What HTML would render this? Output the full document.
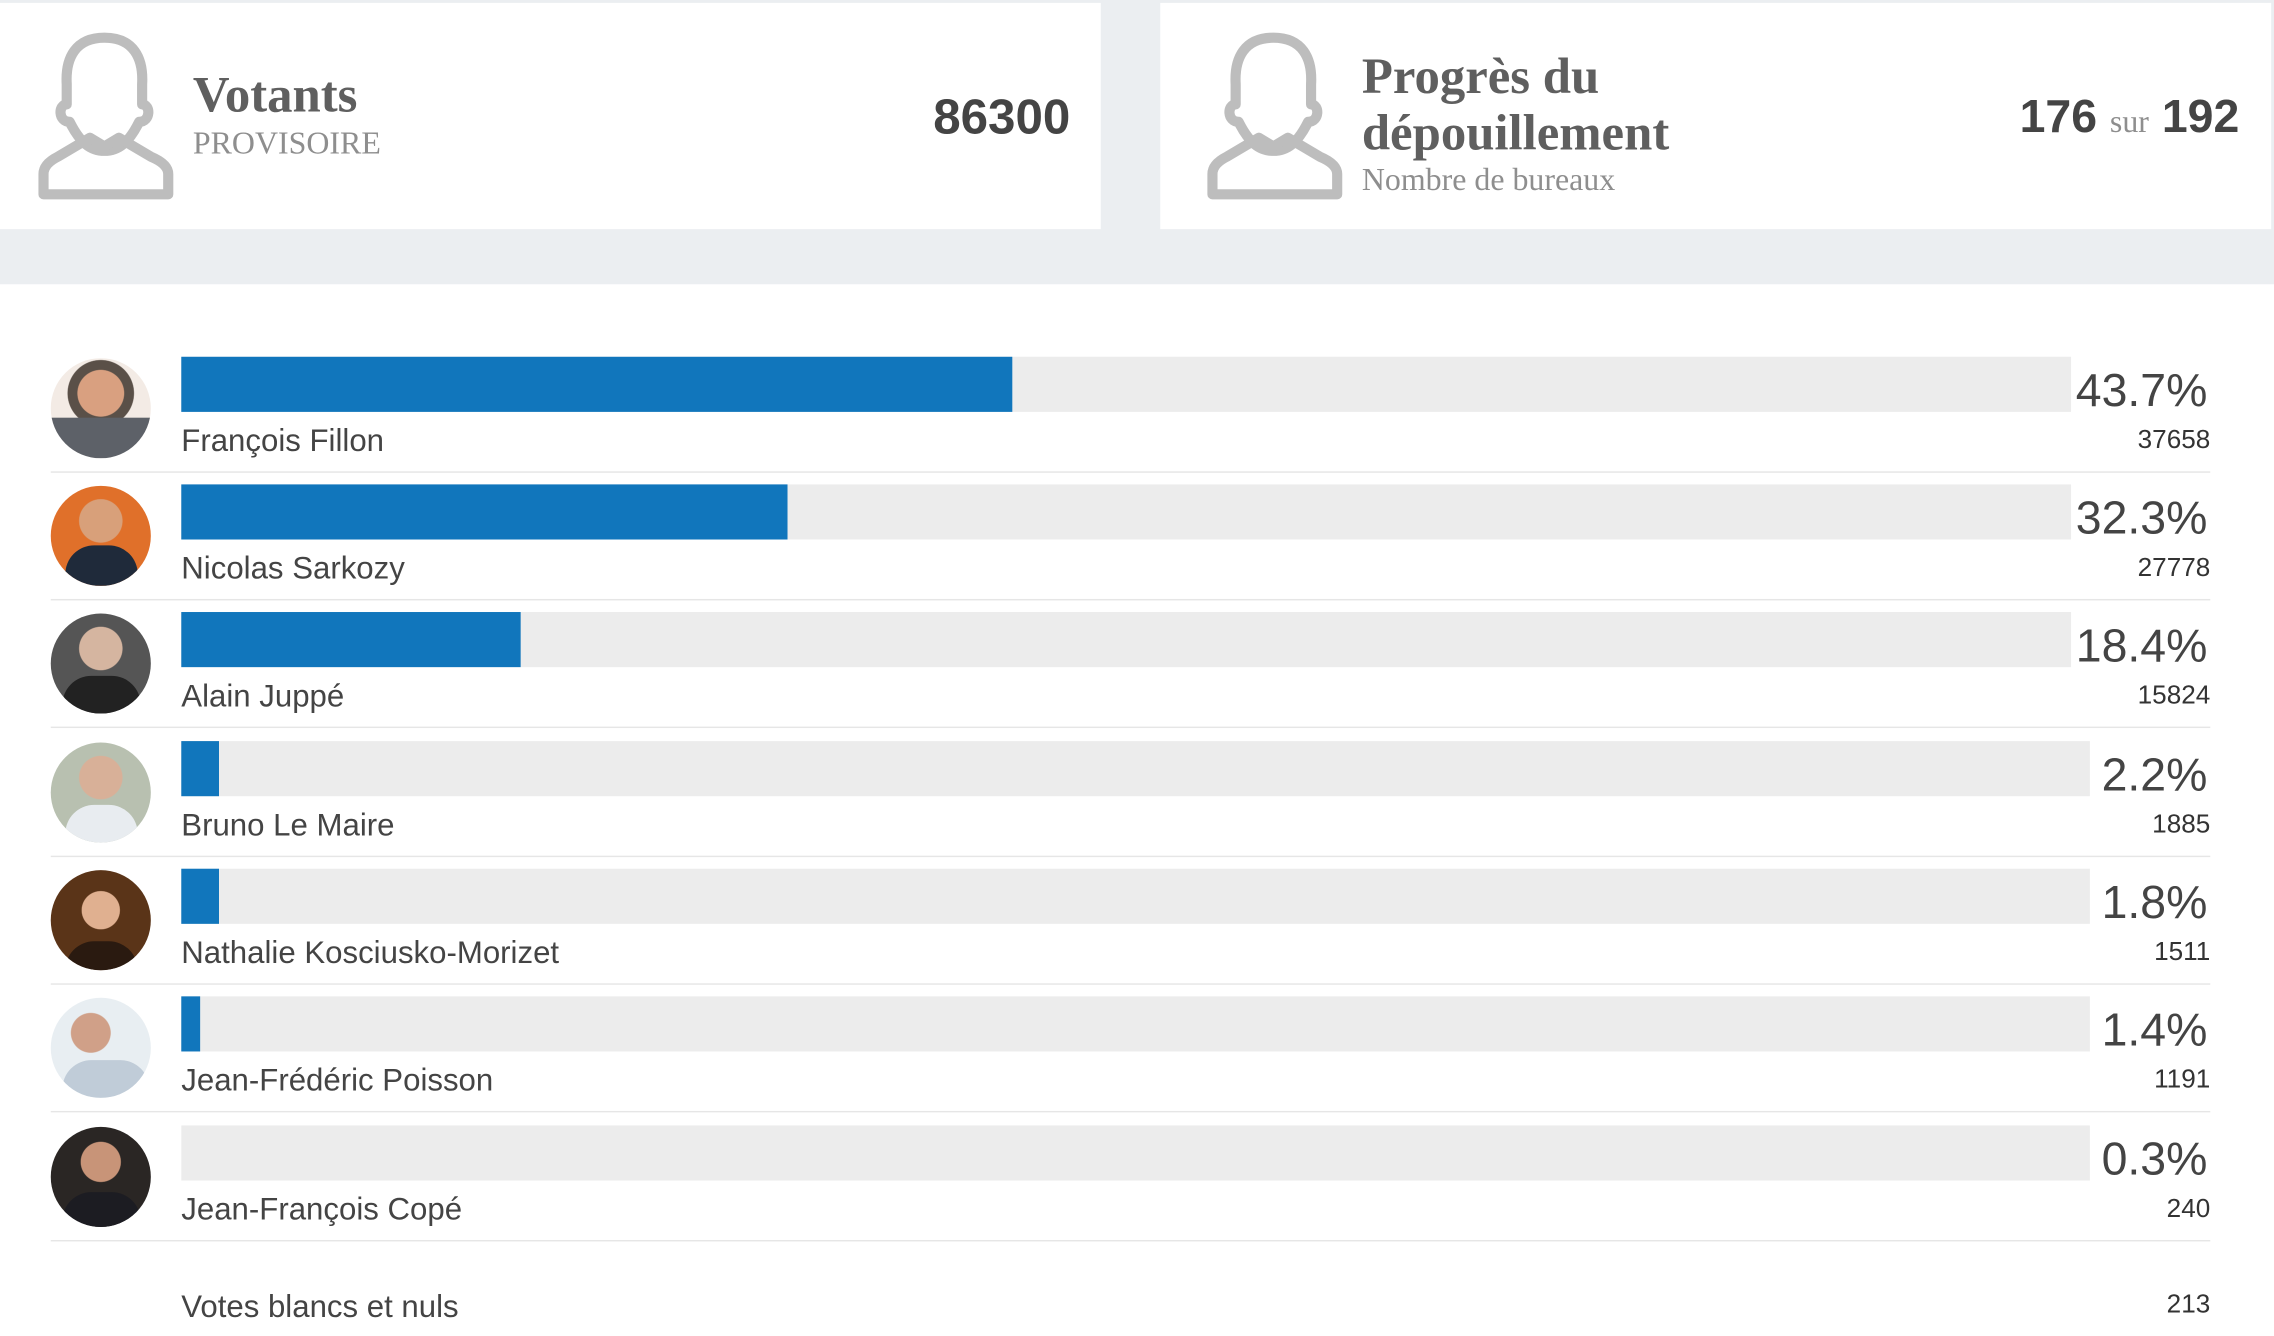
<!DOCTYPE html>
<html><head><meta charset="utf-8"><style>
html,body{margin:0;padding:0;width:2274px;height:1335px;overflow:hidden;background:#fff}
#w{position:absolute;left:0;top:0;width:1568px;height:921px;transform:scale(1.4503);transform-origin:0 0;font-family:"Liberation Sans",sans-serif;color:#444;overflow:hidden}
.abs{position:absolute}
.row{position:absolute;left:0;width:1568px;height:88px}
.serif{font-family:"Liberation Serif",serif}
.track{position:absolute;left:125px;height:38px;background:#ececec}
.fill{position:absolute;left:0;top:0;height:38px;background:#1176bc}
.name{position:absolute;left:125px;font-size:21.5px;color:#444;white-space:nowrap}
.pct{position:absolute;right:46px;font-size:32px;color:#444;text-align:right;white-space:nowrap}
.cnt{position:absolute;right:44px;font-size:18px;color:#333;text-align:right;white-space:nowrap}
.sep{position:absolute;left:35px;width:1489px;height:1px;background:#e6e6e6}
.av{position:absolute;left:35px;width:69px;height:69px;border-radius:50%;overflow:hidden}
</style></head><body><div id="w">
<div class="abs" style="left:0;top:0;width:1568px;height:196px;background:#ebeef1"></div>
<div class="abs" style="left:0;top:2px;width:759px;height:156px;background:#fff"></div>
<div class="abs" style="left:800px;top:2px;width:766px;height:156px;background:#fff"></div>
<svg class="abs" style="left:0;top:0" width="1568" height="160">
<g fill="none" stroke="#bdbdbd" stroke-width="7" stroke-linejoin="round">
 <path d="M72 26 C52 26 45 40 46 58 L46 72 C40 72 40 84 48 84 C55 98 62 104 72 104 C82 104 89 98 96 84 C104 84 104 72 98 72 L98 58 C99 40 92 26 72 26Z"/>
 <path d="M30 134 L30 120 Q30 113 40 108 L62 95 L72 101 L82 95 L104 108 Q116 113 116 120 L116 134Z"/>
 <path transform="translate(806,0)" d="M72 26 C52 26 45 40 46 58 L46 72 C40 72 40 84 48 84 C55 98 62 104 72 104 C82 104 89 98 96 84 C104 84 104 72 98 72 L98 58 C99 40 92 26 72 26Z"/>
 <path transform="translate(806,0)" d="M30 134 L30 120 Q30 113 40 108 L62 95 L72 101 L82 95 L104 108 Q116 113 116 120 L116 134Z"/>
</g></svg>
<div class="abs serif" style="left:133px;top:46px;font-size:35px;font-weight:bold;color:#5f5f5f">Votants</div>
<div class="abs serif" style="left:133px;top:86px;font-size:22px;color:#8e8e8e">PROVISOIRE</div>
<div class="abs" style="right:830px;top:62px;font-size:34px;font-weight:bold;color:#444">86300</div>
<div class="abs serif" style="left:939px;top:33px;font-size:35px;font-weight:bold;color:#5f5f5f;line-height:39px;white-space:nowrap">Progrès du<br>dépouillement</div>
<div class="abs serif" style="left:939px;top:111px;font-size:22px;color:#8e8e8e;white-space:nowrap">Nombre de bureaux</div>
<div class="abs" style="right:24px;top:62px;font-size:32px;font-weight:bold;color:#444;white-space:nowrap">176 <span class="serif" style="font-size:22px;font-weight:normal;color:#8e8e8e">sur</span> 192</div>

<div class="row" style="top:246px">
 <div class="av" style="top:1px;background:radial-gradient(circle at 50% 35%,#d9a080 0 28%,#5a5048 29% 40%,#f3ebe5 41%),#f3ebe5"><div style="position:absolute;left:0;bottom:0;width:69px;height:28px;background:#5d6168"></div></div>
 <div class="track" style="top:0;width:1303px"><div class="fill" style="width:573px"></div></div>
 <div class="pct" style="top:5px">43.7%</div>
 <div class="name" style="top:46px">François Fillon</div>
 <div class="cnt" style="top:47px">37658</div>
 <div class="sep" style="top:79px"></div>
</div>
<div class="row" style="top:334px">
 <div class="av" style="top:1px;background:radial-gradient(circle at 50% 35%,#d8a07a 0 26%,#e0702a 27%)"><div style="position:absolute;left:10px;bottom:0;width:50px;height:28px;background:#1f2a3a;border-radius:20px 20px 0 0"></div></div>
 <div class="track" style="top:0;width:1303px"><div class="fill" style="width:418px"></div></div>
 <div class="pct" style="top:5px">32.3%</div>
 <div class="name" style="top:46px">Nicolas Sarkozy</div>
 <div class="cnt" style="top:47px">27778</div>
 <div class="sep" style="top:79px"></div>
</div>
<div class="row" style="top:422px">
 <div class="av" style="top:1px;background:radial-gradient(circle at 50% 35%,#d5b5a0 0 26%,#555 27%)"><div style="position:absolute;left:8px;bottom:0;width:54px;height:26px;background:#222;border-radius:20px 20px 0 0"></div></div>
 <div class="track" style="top:0;width:1303px"><div class="fill" style="width:234px"></div></div>
 <div class="pct" style="top:5px">18.4%</div>
 <div class="name" style="top:46px">Alain Juppé</div>
 <div class="cnt" style="top:47px">15824</div>
 <div class="sep" style="top:79px"></div>
</div>
<div class="row" style="top:511px">
 <div class="av" style="top:1px;background:radial-gradient(circle at 50% 35%,#d8b098 0 26%,#b8c0b0 27%)"><div style="position:absolute;left:10px;bottom:0;width:50px;height:26px;background:#e8ecf0;border-radius:20px 20px 0 0"></div></div>
 <div class="track" style="top:0;width:1316px"><div class="fill" style="width:26px"></div></div>
 <div class="pct" style="top:5px">2.2%</div>
 <div class="name" style="top:46px">Bruno Le Maire</div>
 <div class="cnt" style="top:47px">1885</div>
 <div class="sep" style="top:79px"></div>
</div>
<div class="row" style="top:599px">
 <div class="av" style="top:1px;background:radial-gradient(circle at 50% 40%,#e0b090 0 24%,#5a3418 25%)"><div style="position:absolute;left:10px;bottom:0;width:50px;height:20px;background:#2a1a10;border-radius:20px 20px 0 0"></div></div>
 <div class="track" style="top:0;width:1316px"><div class="fill" style="width:26px"></div></div>
 <div class="pct" style="top:5px">1.8%</div>
 <div class="name" style="top:46px">Nathalie Kosciusko-Morizet</div>
 <div class="cnt" style="top:47px">1511</div>
 <div class="sep" style="top:79px"></div>
</div>
<div class="row" style="top:687px">
 <div class="av" style="top:1px;background:radial-gradient(circle at 40% 35%,#d0a088 0 22%,#e8eef2 23%)"><div style="position:absolute;left:8px;bottom:0;width:60px;height:26px;background:#c0ccd8;border-radius:20px 20px 0 0"></div></div>
 <div class="track" style="top:0;width:1316px"><div class="fill" style="width:13px"></div></div>
 <div class="pct" style="top:5px">1.4%</div>
 <div class="name" style="top:46px">Jean-Frédéric Poisson</div>
 <div class="cnt" style="top:47px">1191</div>
 <div class="sep" style="top:79px"></div>
</div>
<div class="row" style="top:776px">
 <div class="av" style="top:1px;background:radial-gradient(circle at 50% 35%,#c89478 0 24%,#2a2624 25%)"><div style="position:absolute;left:8px;bottom:0;width:54px;height:24px;background:#1c1c22;border-radius:20px 20px 0 0"></div></div>
 <div class="track" style="top:0;width:1316px"></div>
 <div class="pct" style="top:5px">0.3%</div>
 <div class="name" style="top:46px">Jean-François Copé</div>
 <div class="cnt" style="top:47px">240</div>
 <div class="sep" style="top:79px"></div>
</div>
<div class="name" style="top:889px">Votes blancs et nuls</div>
<div class="cnt" style="top:889px">213</div>
</div></body></html>
